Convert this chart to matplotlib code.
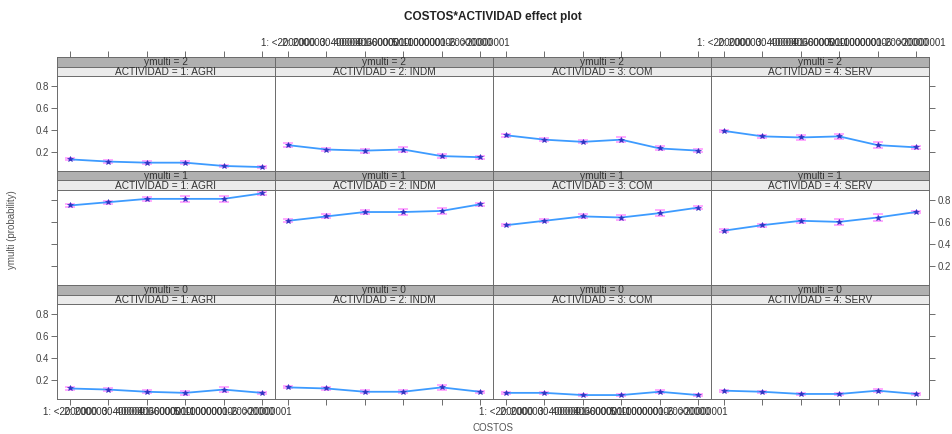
import numpy as np
import matplotlib
matplotlib.use("Agg")
import matplotlib.pyplot as plt

plt.rcParams['font.family'] = ['Liberation Sans', 'DejaVu Sans']

# COSTOS categories (x axis) and ACTIVIDAD panels
costos_labels = ["1: <2000000", "2: 2000000-4000000", "3: 4000001-6000000",
                 "4: 6000001-10000000", "5: 10000001-20000000", "6: >20000001"]
actividad = ["1: AGRI", "2: INDM", "3: COM", "4: SERV"]
ymulti_levels = ["2", "1", "0"]

# fitted probabilities, rows = ymulti 2, 1, 0 ; one list per ACTIVIDAD
prob_y2 = {
    "1: AGRI": [0.13, 0.11, 0.10, 0.10, 0.07, 0.06],
    "2: INDM": [0.26, 0.22, 0.21, 0.22, 0.16, 0.15],
    "3: COM":  [0.35, 0.31, 0.29, 0.31, 0.23, 0.21],
    "4: SERV": [0.39, 0.34, 0.33, 0.34, 0.26, 0.24],
}
prob_y1 = {
    "1: AGRI": [0.75, 0.78, 0.81, 0.81, 0.81, 0.86],
    "2: INDM": [0.61, 0.65, 0.69, 0.69, 0.70, 0.76],
    "3: COM":  [0.57, 0.61, 0.65, 0.64, 0.68, 0.73],
    "4: SERV": [0.52, 0.57, 0.61, 0.60, 0.64, 0.69],
}
prob_y0 = {
    "1: AGRI": [0.12, 0.11, 0.09, 0.08, 0.11, 0.08],
    "2: INDM": [0.13, 0.12, 0.09, 0.09, 0.13, 0.09],
    "3: COM":  [0.08, 0.08, 0.06, 0.06, 0.09, 0.06],
    "4: SERV": [0.10, 0.09, 0.07, 0.07, 0.10, 0.07],
}

# half widths of the confidence intervals
ci_y2 = {
    "1: AGRI": [0.010, 0.010, 0.012, 0.012, 0.012, 0.010],
    "2: INDM": [0.015, 0.015, 0.018, 0.025, 0.020, 0.015],
    "3: COM":  [0.012, 0.012, 0.015, 0.020, 0.018, 0.012],
    "4: SERV": [0.012, 0.015, 0.020, 0.025, 0.025, 0.015],
}
ci_y1 = {
    "1: AGRI": [0.015, 0.015, 0.020, 0.025, 0.025, 0.012],
    "2: INDM": [0.015, 0.018, 0.022, 0.030, 0.028, 0.012],
    "3: COM":  [0.012, 0.015, 0.018, 0.025, 0.025, 0.012],
    "4: SERV": [0.012, 0.015, 0.020, 0.028, 0.030, 0.012],
}
ci_y0 = {
    "1: AGRI": [0.010, 0.012, 0.015, 0.020, 0.020, 0.010],
    "2: INDM": [0.010, 0.012, 0.012, 0.015, 0.020, 0.010],
    "3: COM":  [0.008, 0.008, 0.010, 0.012, 0.012, 0.008],
    "4: SERV": [0.008, 0.010, 0.010, 0.012, 0.015, 0.008],
}

probs = [prob_y2, prob_y1, prob_y0]
cis = [ci_y2, ci_y1, ci_y0]
yticks = [0.2, 0.4, 0.6, 0.8]

W, H = 953, 434
fig = plt.figure(figsize=(W / 100, H / 100), dpi=100)


def box(x0, y0, x1, y1):
    # pixel box (top-left origin) -> figure fraction
    return [x0 / W, 1 - y1 / H, (x1 - x0) / W, (y1 - y0) / H]


col_x = [57, 275, 493, 711, 929]
row_y = [57, 171, 285, 399]
strip_h = 9.5
xlim = (0.66, 6.34)
ylim = (0.024, 0.891)
xs = np.arange(1, 7)

edge = "#6a6a6a"
tick_col = "#555555"
fs = 7

for r in range(3):
    for c in range(4):
        x0, x1 = col_x[c], col_x[c + 1]
        top = row_y[r]
        bot = row_y[r + 1]

        # strips: ymulti (dark) above ACTIVIDAD (light)
        s1 = fig.add_axes(box(x0, top, x1, top + strip_h))
        s2 = fig.add_axes(box(x0, top + strip_h, x1, top + 2 * strip_h))
        for s, fc, txt in [(s1, "#b0b0b0", "ymulti = " + ymulti_levels[r]),
                           (s2, "#ebebeb", "ACTIVIDAD = " + actividad[c])]:
            s.set_facecolor(fc)
            s.set_xlim(xlim)
            s.set_ylim(0, 1)
            s.set_yticks([])
            s.set_xticks([])
            for sp in s.spines.values():
                sp.set_color(edge)
                sp.set_linewidth(0.7)
            s.text(0.5, 0.45, txt, transform=s.transAxes, ha="center", va="center",
                   fontsize=7.3, color="#333333")

        # top axis ticks on the first row (labels on alternate columns)
        if r == 0:
            s1.set_xticks(xs)
            s1.tick_params(axis="x", bottom=False, top=True, labelbottom=False,
                           labeltop=(c % 2 == 1), direction="out", length=4,
                           width=0.6, color=tick_col, labelsize=fs,
                           labelcolor="#333333", pad=2.5)
            if c % 2 == 1:
                s1.set_xticklabels(costos_labels)

        ax = fig.add_axes(box(x0, top + 2 * strip_h, x1, bot))
        ax.set_xlim(xlim)
        ax.set_ylim(ylim)
        for sp in ax.spines.values():
            sp.set_color(edge)
            sp.set_linewidth(0.7)

        p = np.array(probs[r][actividad[c]])
        e = np.array(cis[r][actividad[c]])
        ax.errorbar(xs, p, yerr=e, fmt="none", ecolor="#ff70ff", elinewidth=1.1,
                    capsize=3.5, capthick=1.1, alpha=0.75, zorder=2)
        ax.plot(xs, p, color="#3d9bff", lw=1.3, zorder=3)
        ax.plot(xs, p, ls="none", marker="*", ms=4, color="#3030c0",
                markeredgewidth=0.4, zorder=4)

        # x ticks only on the bottom row, labels on alternate columns
        ax.set_xticks(xs)
        if r == 2:
            ax.tick_params(axis="x", direction="out", length=4, width=0.6,
                           color=tick_col, labelsize=fs, labelcolor="#333333",
                           pad=2, labelbottom=(c % 2 == 0))
            if c % 2 == 0:
                ax.set_xticklabels(costos_labels)
        else:
            ax.tick_params(axis="x", bottom=False, labelbottom=False)

        # y ticks on the outer columns, labels alternate left / right by row
        ax.set_yticks(yticks)
        ax.set_yticklabels(["0.2", "0.4", "0.6", "0.8"])
        if c == 0:
            ax.tick_params(axis="y", left=True, right=False, direction="out",
                           length=4, width=0.6, color=tick_col, labelsize=fs,
                           labelcolor="#444444", labelleft=(r != 1), pad=2)
        elif c == 3:
            ax.tick_params(axis="y", left=False, right=True, direction="out",
                           length=4, width=0.6, color=tick_col, labelsize=fs,
                           labelcolor="#444444", labelleft=False,
                           labelright=(r == 1), pad=2)
        else:
            ax.tick_params(axis="y", left=False, right=False, labelleft=False)

fig.text(493 / W, 1 - 17 / H, "COSTOS*ACTIVIDAD effect plot", ha="center",
         va="center", fontsize=8.5, fontweight="bold", color="#222222")
fig.text(493 / W, 1 - 428 / H, "COSTOS", ha="center", va="center",
         fontsize=fs, color="#555555")
fig.text(12 / W, 1 - 230 / H, "ymulti (probability)", ha="center", va="center",
         rotation=90, fontsize=fs, color="#555555")

fig.savefig("out.png", dpi=100)
